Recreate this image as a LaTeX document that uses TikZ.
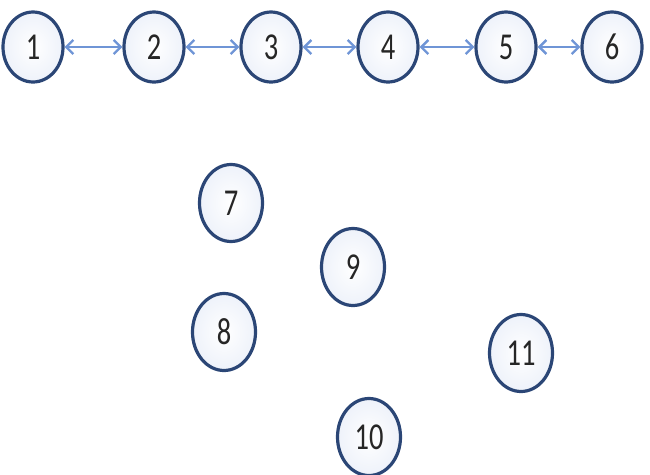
\documentclass[tikz,border=0pt]{standalone}
\usepackage{fontspec}
\newfontfamily\digfont[FakeStretch=0.75]{Carlito}
\usetikzlibrary{shapes.geometric,arrows.meta}
\definecolor{ringblue}{HTML}{2B4676}
\definecolor{arrowblue}{HTML}{6F95D6}
\definecolor{innerblue}{HTML}{EEF2FA}
\begin{document}
\begin{tikzpicture}[x=1pt,y=-1pt,
  vnode/.style={ellipse,draw=ringblue,line width=3.2pt,inner color=white,outer color=innerblue,
    minimum width=60pt,minimum height=70pt,inner sep=0pt,font=\digfont\fontsize{38}{42}\selectfont,text=black!85},
  bignode/.style={vnode,minimum width=63pt,minimum height=77pt},
  link/.style={draw=arrowblue,line width=2.4pt,{Straight Barb[length=7pt,width=14pt]}-{Straight Barb[length=7pt,width=14pt]}}]
\useasboundingbox (0,0) rectangle (650,474);
\node[vnode] (n1) at (33,47) {1};
\node[vnode] (n2) at (154,47) {2};
\node[vnode] (n3) at (271,47) {3};
\node[vnode] (n4) at (388,47) {4};
\node[vnode] (n5) at (506,47) {5};
\node[vnode] (n6) at (612,47) {6};
\node[bignode] (n7) at (231,203) {7};
\node[bignode] (n9) at (353,267) {9};
\node[bignode] (n8) at (224,332) {8};
\node[bignode] (n11) at (521,353) {11};
\node[bignode] (n10) at (369,437) {10};
\draw[link] (n1) -- (n2);
\draw[link] (n2) -- (n3);
\draw[link] (n3) -- (n4);
\draw[link] (n4) -- (n5);
\draw[link] (n5) -- (n6);
\end{tikzpicture}
\end{document}
